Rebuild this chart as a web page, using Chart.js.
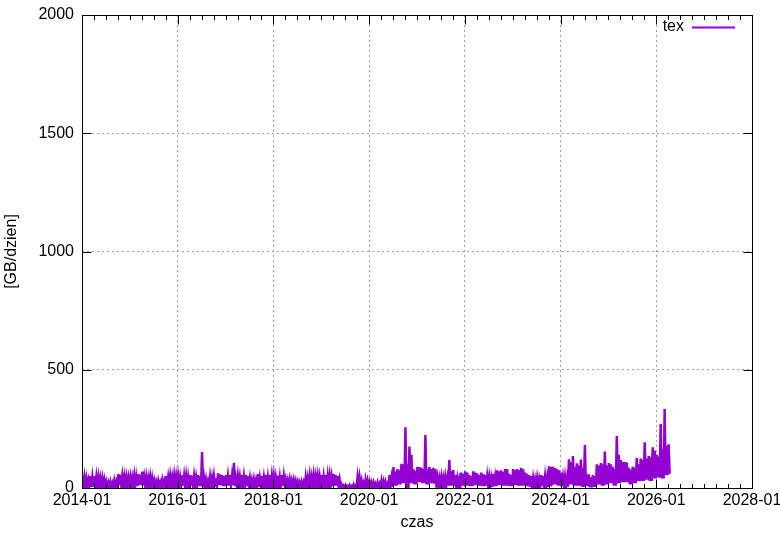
<!DOCTYPE html>
<html>
<head>
<meta charset="utf-8">
<script src="https://cdn.jsdelivr.net/npm/chart.js@4.4.1/dist/chart.umd.min.js"></script>
<style>
html,body{margin:0;padding:0;background:#fff;}
#wrap{width:780px;height:538px;position:relative;}
</style>
</head>
<body>
<div id="wrap"><canvas id="c" width="780" height="538"></canvas></div>
<script>
// ---- data ----
const seriesName = 'tex';
const xTitle = 'czas';
const yTitle = '[GB/dzien]';
const firstYear = 2014;          // first month of data: 2014-01
const xTickYears = [2014, 2016, 2018, 2020, 2022, 2024, 2026, 2028];
const yTicks = [0, 500, 1000, 1500, 2000];

// typical top of the daily band for each month (GB/day), one row per year
const topGB = [
  45,34,45,48,40,34,22,20,25,55,45,42,      // 2014
  42,45,55,45,40,40,25,22,28,45,45,48,      // 2015
  45,50,45,52,45,50,40,27,40,42,58,50,      // 2016
  50,50,40,45,50,50,32,28,40,45,45,52,      // 2017
  45,45,50,30,30,28,22,22,40,45,48,45,      // 2018
  48,52,46,55,35,10,8,8,10,44,20,30,        // 2019
  22,17,17,27,17,40,70,75,100,100,140,73,   // 2020
  88,80,80,80,80,40,42,40,73,55,35,60,      // 2021
  65,50,65,55,60,50,40,45,70,68,80,55,      // 2022
  75,75,80,60,50,35,35,50,40,90,85,75,      // 2023
  45,40,110,90,95,85,58,45,50,95,100,95,    // 2024
  100,80,140,110,108,78,85,100,118,125,130,158, // 2025
  133,165,178,178                           // 2026
];
// highest day in each month (GB/day)
const peakGB = [
  48,40,50,50,45,40,26,25,30,59,50,45,      // 2014
  45,50,59,69,45,45,30,28,32,50,50,52,      // 2015
  50,55,50,55,50,55,152,35,45,48,62,55,     // 2016
  55,55,107,50,55,55,40,35,59,50,55,55,     // 2017
  50,52,55,35,35,32,25,25,45,50,52,50,      // 2018
  55,55,50,59,50,15,12,12,15,46,30,34,      // 2019
  25,22,22,30,25,55,89,80,102,257,175,80,   // 2020
  90,85,224,90,85,45,46,46,118,76,40,65,    // 2021
  70,55,70,62,65,55,45,60,75,75,80,60,      // 2022
  80,80,85,65,55,40,40,55,48,92,90,80,      // 2023
  65,46,121,135,104,120,182,58,55,100,105,154, // 2024
  105,90,220,118,110,85,90,127,125,193,135,172, // 2025
  140,270,334,185                           // 2026
];
// lowest day in each month (GB/day)
const lowGB = [
  8,10,5,10,8,6,3,3,5,12,8,10,              // 2014
  10,8,12,10,8,6,3,3,5,10,12,10,            // 2015
  12,10,8,10,12,8,3,3,5,10,12,8,            // 2016
  10,12,8,10,12,8,5,3,5,10,8,12,            // 2017
  10,8,10,5,5,5,3,3,8,10,12,8,              // 2018
  10,12,8,10,5,2,2,2,2,8,3,5,               // 2019
  3,3,2,5,3,5,10,15,20,0,20,15,             // 2020
  25,20,15,20,18,10,12,10,10,8,8,10,        // 2021
  10,8,12,10,8,10,5,8,12,10,10,8,           // 2022
  12,10,10,8,5,5,3,8,5,12,15,10,            // 2023
  8,5,15,10,10,5,8,3,5,15,10,15,            // 2024
  20,10,20,25,25,15,20,30,30,35,30,40,      // 2025
  45,40,55,60                               // 2026
];

// ---- build the line (peak, low, top, low inside each month) ----
const points = [];
const n = topGB.length;
for (let m = 0; m < n; m++) {
  const seq = [[0.1, peakGB[m]], [0.35, lowGB[m]], [0.6, topGB[m]], [0.85, lowGB[m]]];
  for (const [f, v] of seq) {
    if (m === n - 1 && f > 0.5) continue;
    points.push({x: firstYear + (m + f) / 12, y: v});
  }
}

const FONT = '"Liberation Sans", Arial, sans-serif';
const lineColor = '#9400d3';

const framePlugin = {
  id: 'frame',
  afterDatasetsDraw(chart) {
    const {ctx, chartArea: a, scales: {x, y}} = chart;
    ctx.save();
    ctx.strokeStyle = '#000';
    ctx.lineWidth = 1;
    ctx.beginPath();
    // major x ticks (bottom & top, inward)
    for (const v of xTickYears) {
      const px = Math.round(x.getPixelForValue(v)) + 0.5;
      ctx.moveTo(px, a.bottom + 0.5); ctx.lineTo(px, a.bottom - 8.5);
      ctx.moveTo(px, a.top + 0.5); ctx.lineTo(px, a.top + 9.5);
    }
    // minor x ticks every quarter
    for (let yr = xTickYears[0]; yr < xTickYears[xTickYears.length - 1]; yr += 0.25) {
      if (xTickYears.includes(yr)) continue;
      const px = Math.round(x.getPixelForValue(yr)) + 0.5;
      ctx.moveTo(px, a.bottom + 0.5); ctx.lineTo(px, a.bottom - 4);
      ctx.moveTo(px, a.top + 0.5); ctx.lineTo(px, a.top + 5);
    }
    // y ticks left & right
    for (const v of yTicks) {
      const py = Math.round(y.getPixelForValue(v)) + 0.5;
      ctx.moveTo(a.left + 0.5, py); ctx.lineTo(a.left + 9.5, py);
      ctx.moveTo(a.right + 0.5, py); ctx.lineTo(a.right - 8.5, py);
    }
    ctx.stroke();
    ctx.strokeRect(a.left + 0.5, a.top + 0.5, a.right - a.left, a.bottom - a.top);

    // axis titles
    ctx.fillStyle = '#000';
    ctx.font = '16px ' + FONT;
    ctx.textAlign = 'center';
    ctx.textBaseline = 'middle';
    ctx.fillText(xTitle, (a.left + a.right) / 2, 523);
    ctx.save();
    ctx.translate(12, (a.top + a.bottom) / 2);
    ctx.rotate(-Math.PI / 2);
    ctx.fillText(yTitle, 0, 0);
    ctx.restore();

    // legend (top right, inside)
    const ds = chart.data.datasets[0];
    ctx.textAlign = 'right';
    ctx.fillText(ds.label, 684, 27);
    ctx.strokeStyle = ds.borderColor;
    ctx.lineWidth = 2;
    ctx.beginPath();
    ctx.moveTo(692, 27.5); ctx.lineTo(735, 27.5);
    ctx.stroke();
    ctx.restore();
  }
};

new Chart(document.getElementById('c'), {
  type: 'line',
  data: {
    datasets: [{
      label: seriesName,
      data: points,
      borderColor: lineColor,
      backgroundColor: lineColor,
      borderWidth: 2.5,
      pointRadius: 0,
      tension: 0,
      fill: false
    }]
  },
  options: {
    responsive: false,
    devicePixelRatio: 1,
    animation: false,
    layout: {padding: {left: 0, right: 28, top: 15, bottom: 0}},
    plugins: {legend: {display: false}, tooltip: {enabled: false}},
    scales: {
      x: {
        type: 'linear',
        min: xTickYears[0],
        max: xTickYears[xTickYears.length - 1],
        afterBuildTicks: s => { s.ticks = xTickYears.map(v => ({value: v})); },
        afterFit: s => { s.height = 50; s.paddingLeft = 0; s.paddingRight = 0; },
        ticks: {
          callback: v => v + '-01',
          color: '#000',
          font: {family: FONT, size: 16},
          padding: 3,
          maxRotation: 0,
          autoSkip: false
        },
        grid: {color: '#a0a0a0', lineWidth: 1, drawTicks: false},
        border: {display: false, dash: [2, 3]}
      },
      y: {
        min: 0,
        max: 2000,
        afterBuildTicks: s => { s.ticks = yTicks.map(v => ({value: v})); },
        afterFit: s => { s.width = 82; s.paddingTop = 0; s.paddingBottom = 0; },
        ticks: {
          callback: v => String(v),
          color: '#000',
          font: {family: FONT, size: 16},
          padding: 8
        },
        grid: {color: '#a0a0a0', lineWidth: 1, drawTicks: false},
        border: {display: false, dash: [2, 3]}
      }
    }
  },
  plugins: [framePlugin]
});
</script>
</body>
</html>
